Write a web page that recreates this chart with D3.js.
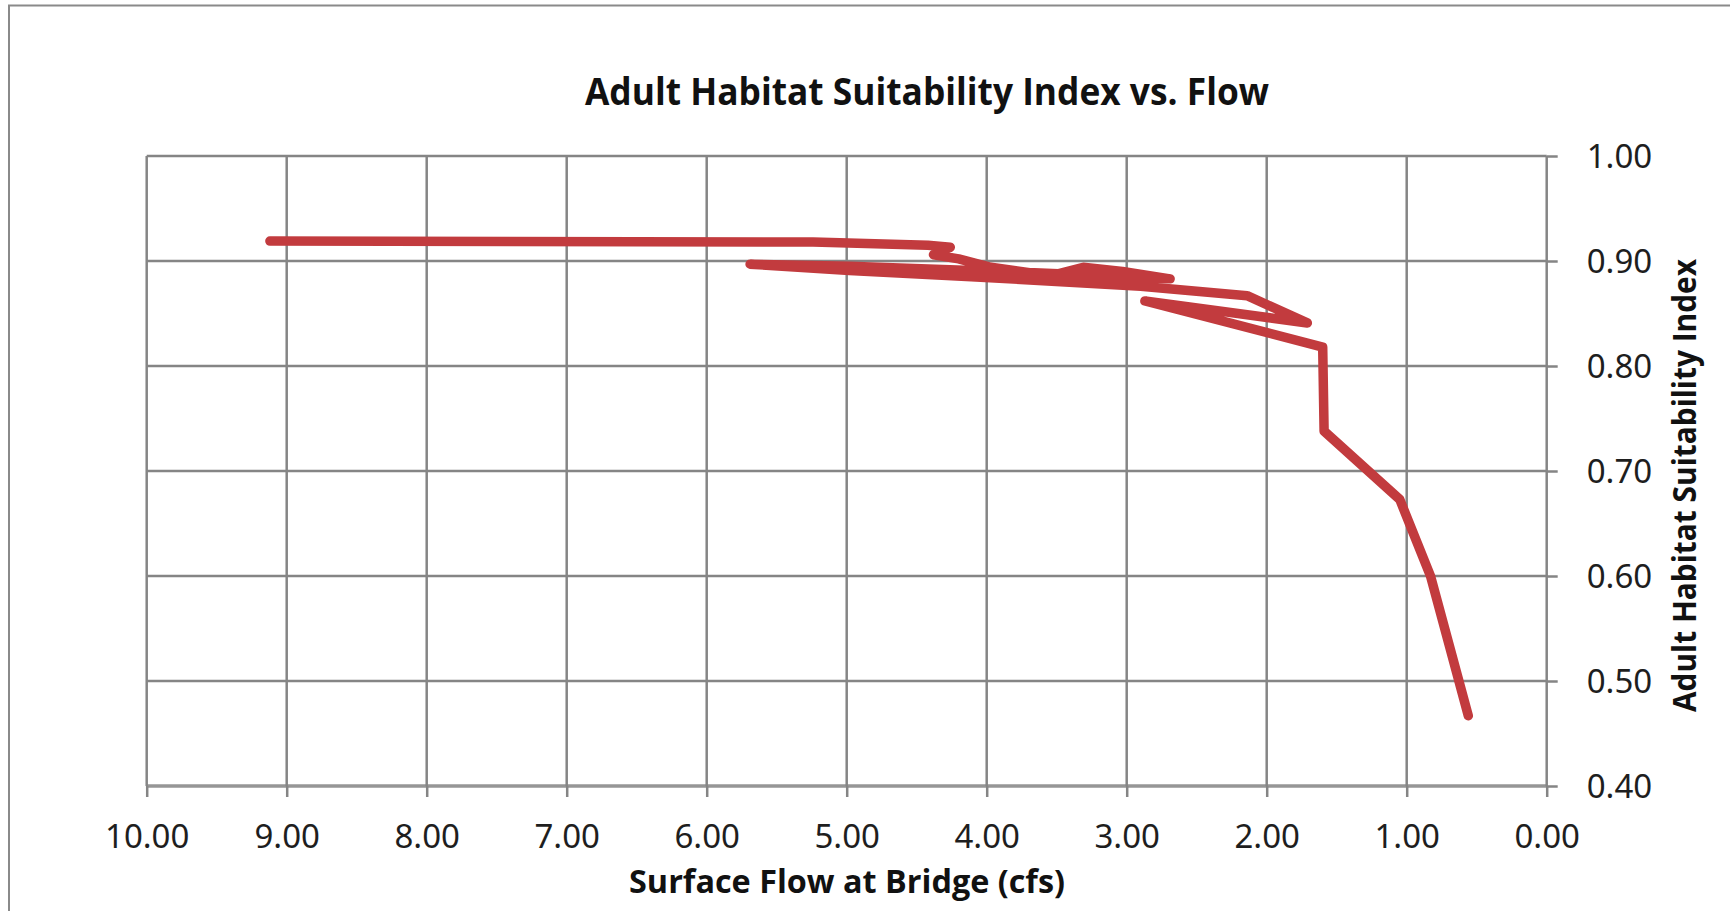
<!DOCTYPE html>
<html>
<head>
<meta charset="utf-8">
<script src="https://cdn.jsdelivr.net/npm/d3@7"></script>
<style>
  html, body { margin: 0; padding: 0; background: #ffffff; }
  svg { display: block; }
</style>
</head>
<body>
<svg id="chart" width="1730" height="911"></svg>
<script>
// ---- Data ----
const chartTitle = "Adult Habitat Suitability Index vs. Flow";
const xTitle = "Surface Flow at Bridge (cfs)";
const yTitle = "Adult Habitat Suitability Index";

// Surface flow (cfs), in plotting order
const flow = [9.12, 5.24, 4.42, 4.26, 4.38, 4.20, 3.97, 3.54, 3.31, 3.03, 2.69,
              3.31, 4.11, 4.98, 5.69, 4.98, 4.11, 2.90, 2.14, 1.71, 2.87,
              1.60, 1.59, 1.05, 0.83, 0.56];
// Adult habitat suitability index, same order
const hsi = [0.919, 0.918, 0.915, 0.913, 0.906, 0.902, 0.894, 0.886, 0.894, 0.890, 0.883,
             0.887, 0.891, 0.895, 0.897, 0.891, 0.885, 0.876, 0.867, 0.841, 0.862,
             0.818, 0.738, 0.673, 0.600, 0.467];

const xTicks = [10, 9, 8, 7, 6, 5, 4, 3, 2, 1, 0];
const yTicks = [0.4, 0.5, 0.6, 0.7, 0.8, 0.9, 1.0];

// ---- Layout ----
const svg = d3.select("#chart");
const plotL = 146.7, plotR = 1546.7, plotT = 156, plotB = 786;

const x = d3.scaleLinear().domain([10, 0]).range([plotL, plotR]);
const y = d3.scaleLinear().domain([0.4, 1.0]).range([plotB, plotT]);

const labelFont = "'Noto Sans', 'Open Sans', sans-serif";
const titleFont = "'Liberation Sans Narrow', 'Open Sans', sans-serif";

// outer chart frame
svg.append("path")
  .attr("d", "M9,911 L9,5.5 L1730,5.5")
  .attr("fill", "none")
  .attr("stroke", "#8a8a8a")
  .attr("stroke-width", 2);

// gridlines
const grid = svg.append("g");
grid.selectAll("line.h").data(yTicks).join("line")
  .attr("class", "h")
  .attr("x1", x(10)).attr("x2", x(0))
  .attr("y1", d => y(d)).attr("y2", d => y(d))
  .attr("stroke", d => d === 0.4 ? "#969696" : "#858585")
  .attr("stroke-width", d => d === 0.4 ? 3.5 : 2.5);
grid.selectAll("line.v").data(xTicks).join("line")
  .attr("class", "v")
  .attr("x1", d => x(d)).attr("x2", d => x(d))
  .attr("y1", y(1.0)).attr("y2", y(0.4))
  .attr("stroke", "#858585")
  .attr("stroke-width", 2.5);

// x axis (bottom)
const xAxis = svg.append("g")
  .attr("transform", `translate(0,${plotB})`)
  .call(d3.axisBottom(x).tickValues(xTicks).tickSize(11).tickFormat(d3.format(".2f")));
xAxis.select(".domain").remove();
xAxis.selectAll(".tick line").attr("stroke", "#858585").attr("stroke-width", 2.5);
xAxis.selectAll(".tick text")
  .attr("y", 62).attr("dy", 0)
  .attr("font-family", labelFont).attr("font-size", 33).attr("fill", "#1e1e1e");

// y axis (right)
const yAxis = svg.append("g")
  .attr("transform", `translate(${plotR},0)`)
  .call(d3.axisRight(y).tickValues(yTicks).tickSize(11).tickFormat(d3.format(".2f")));
yAxis.select(".domain").remove();
yAxis.selectAll(".tick line").attr("stroke", "#858585").attr("stroke-width", 2.5);
yAxis.selectAll(".tick text")
  .attr("x", 40).attr("dy", "0.36em")
  .attr("font-family", labelFont).attr("font-size", 33).attr("fill", "#1e1e1e");

// data line
const pts = flow.map((f, i) => [f, hsi[i]]);
const line = d3.line().x(d => x(d[0])).y(d => y(d[1]));
svg.append("path")
  .datum(pts)
  .attr("d", line)
  .attr("fill", "none")
  .attr("stroke", "#c23b3e")
  .attr("stroke-width", 9.5)
  .attr("stroke-linejoin", "round")
  .attr("stroke-linecap", "round");

// titles
svg.append("text")
  .attr("x", 927).attr("y", 105)
  .attr("text-anchor", "middle")
  .attr("font-family", titleFont).attr("font-weight", "bold").attr("font-size", 37)
  .attr("textLength", 684).attr("lengthAdjust", "spacingAndGlyphs")
  .attr("fill", "#111")
  .text(chartTitle);

svg.append("text")
  .attr("x", 847).attr("y", 893)
  .attr("text-anchor", "middle")
  .attr("font-family", titleFont).attr("font-weight", "bold").attr("font-size", 33)
  .attr("textLength", 436).attr("lengthAdjust", "spacingAndGlyphs")
  .attr("fill", "#111")
  .text(xTitle);

svg.append("text")
  .attr("transform", "translate(1696,485.5) rotate(-90)")
  .attr("text-anchor", "middle")
  .attr("font-family", titleFont).attr("font-weight", "bold").attr("font-size", 33)
  .attr("textLength", 453).attr("lengthAdjust", "spacingAndGlyphs")
  .attr("fill", "#111")
  .text(yTitle);
</script>
</body>
</html>
